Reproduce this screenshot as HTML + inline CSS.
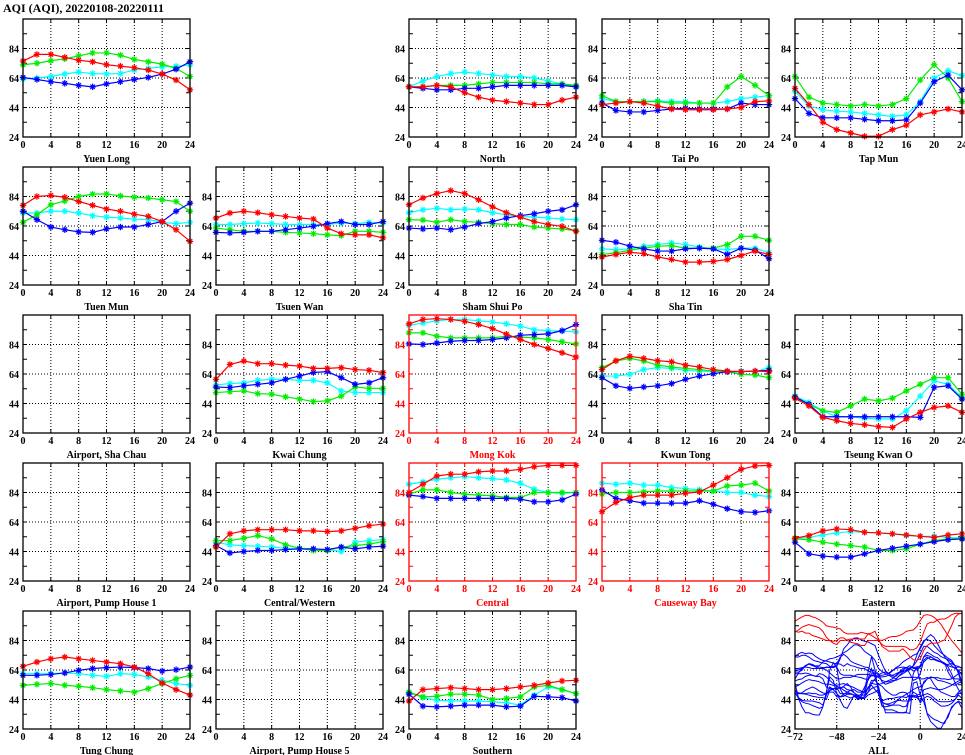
<!DOCTYPE html>
<html><head><meta charset="utf-8">
<style>
html,body{margin:0;padding:0;background:#fff;}
svg{display:block;font-family:"Liberation Serif",serif;font-weight:bold;}
</style></head>
<body>
<svg id="chart" width="965" height="755" viewBox="0 0 965 755" xmlns="http://www.w3.org/2000/svg">
<text x="3" y="12" font-size="12">AQI (AQI), 20220108-20220111</text>
</svg>
<script>
const hours=[0,2,4,6,8,10,12,14,16,18,20,22,24];
const yTicks=[24,44,64,84];
const xTicks=[0,4,8,12,16,20,24];
const allXTicks=[-72,-48,-24,0,24];

const yuenLongRed=[75.5,80,80,78,76,75,73,72,71,69.4,66.7,62.6,56];
const yuenLongGreen=[73,74,75.7,77,79,81,81,79.5,76.6,75,73.4,70.5,65];
const yuenLongCyan=[63.3,64,65,66.7,68,67,66.7,67,69.4,70.5,71.6,72,72.8];
const yuenLongBlue=[64.4,63,61.5,60.4,59,58,60,61.5,63,64.4,66.7,70,75];

const northRed=[58,58,59,58,54,51,49,48,47,46,46,49,51];
const northGreen=[58,58,59,59,59,60,61,61,61,61,60,60,59];
const northCyan=[58,62,65,67,68,67,66,65,65,64,62,60,58];
const northBlue=[58,57,56,56,57,57,58,59,59,59,59,59,58];

const taiPoRed=[46,47,48,47,45,43,42.5,42.5,42.5,43,44,48,48.5];
const taiPoGreen=[52,48,48,48,48,47,47,47,47,58,65,59,52];
const taiPoCyan=[50,48,48,48,48.5,48,48,47,47,48,50,51,52];
const taiPoBlue=[47,42,41,41,42,43,43.5,43,43,43,47,46,46];

const tapMunRed=[57,46,34,29,26.7,24.5,24.5,29,32,39,41,43,41];
const tapMunGreen=[65,51,47,46,45,46,45,46,50,62.6,73,64,48];
const tapMunCyan=[55,45,42.5,41.5,41,40,39,38,39,48,64,69,65.6];
const tapMunBlue=[50,40,37,37,37,36,35,35,35.6,47,61.5,66,56];

const tuenMunRed=[78,84,84.7,83.5,80.6,78,75.5,74,72,70.5,67,61.5,53.6];
const tuenMunGreen=[66.5,71.6,78.4,81,84,85.6,85.8,84.4,83.5,83,81.8,80.6,74];
const tuenMunCyan=[72.8,72.8,74,74,72.8,71,70,69.4,68.7,68.3,66.5,65.6,66.5];
const tuenMunBlue=[74,68.3,63.3,61.5,60,59.7,62,63.3,63.3,65,67,74,79.5];

const tsuenWanRed=[69.4,72.8,74,73,71.6,70.5,69.4,68.7,62.6,58.8,58,58,56];
const tsuenWanGreen=[62.6,61.5,60.4,60.4,60.4,59.7,59.3,58.8,58,57.5,60.4,60.4,59.7];
const tsuenWanCyan=[65,65,65.6,66,65.6,65,65,65,65,66,65.6,66.5,66];
const tsuenWanBlue=[59.7,59.3,59.7,60.4,60.4,61.5,62.6,63.8,65.6,67,65,65,67];

const shamShuiPoRed=[78.4,83,86,88,86,81.8,77,73,70,67,65,63.8,60.4];
const shamShuiPoGreen=[68.3,68,66.5,68.3,67,66.5,65.6,65,65,63.3,62.6,62,60.8];
const shamShuiPoCyan=[73,75,76,75,75.5,75,73,71.6,70.5,70,69.4,68.7,68.3];
const shamShuiPoBlue=[62.6,62,62.6,61.5,63.3,65.6,67,69.4,71,72.3,74,75,78.4];

const shaTinRed=[43,44.7,46.2,45.3,43,41.3,39.5,39.5,40,41.3,44,47,44.7];
const shaTinGreen=[44.7,45.8,47.6,49,50.3,50.7,49,49,49,51.4,57,57,54.3];
const shaTinCyan=[48.5,48,48.5,50.3,51.4,52.5,51.4,49.8,48.5,48,49,49,45.8];
const shaTinBlue=[54.3,53,50.3,48.5,47,47,48.5,49,48.5,44.7,49,47.6,41.8];

const kwaiChungRed=[60.4,70.5,72.8,71,71,70,69.4,67.8,67.8,68.3,67,66.5,65];
const kwaiChungGreen=[51.4,52,52.5,50.7,50.3,48.5,47,45.3,45.8,49,55.2,54.3,54.3];
const kwaiChungCyan=[56.6,57.5,58,59.7,60.4,60.4,59.7,59.7,58,52.5,51.4,51.4,51.4];
const kwaiChungBlue=[55.2,54.8,56,57,58,60.4,62.6,65,65.6,61.5,57,58,61.5];

const mongKokRed=[98,101,101.5,101,99.7,97.5,94.8,91,87.4,84,81.3,78.4,75.5];
const mongKokGreen=[91.9,91.9,89.6,88.5,88.5,88.5,88.5,89.6,89,88.5,87.4,85.8,84.4];
const mongKokCyan=[97,98.6,100,101,101,100,99.3,98,96.4,94,93.4,93,92.5];
const mongKokBlue=[84.4,84,85,86.2,86.7,86.7,87.4,88.5,90.3,90.7,91.2,93.4,97.5];

const kwunTongRed=[67,73,76,74.6,73,72.3,70,68.7,67,66,65.6,66,65.6];
const kwunTongGreen=[68.3,72.8,74.6,72.8,70,68.7,67.8,67,66,65.6,63.8,63.3,61.5];
const kwunTongCyan=[62.6,62.6,63.8,67,68.3,67.8,66.5,66,65.6,65.6,66,65.6,68.3];
const kwunTongBlue=[61.5,56,54.3,55.2,56,57.5,60.4,62.6,64.2,65.6,65.6,66,66.5];

const tseungKwanORed=[47.6,42.4,34.6,32.3,30.5,29.6,28.3,27.8,33.5,38,41.3,42.4,38];
const tseungKwanOGreen=[48.5,43.5,39,38,42.4,47,45.8,47.6,52.5,57,61.5,61.5,50.3];
const tseungKwanOCyan=[49,44.7,39,35,35,34,33.5,33.5,39,49,59.3,57,48];
const tseungKwanOBlue=[48.5,43.5,35,35,35,35,35,35,35,34.6,55,56,47];

const centralWesternRed=[47,56,58,58.8,58.8,58.8,58,58,57.5,58,59.7,61.5,62.6];
const centralWesternGreen=[51.4,51.4,53,54.8,52.5,48.5,46.2,44.7,44.7,47,48,49,50.7];
const centralWesternCyan=[50.3,48.5,48,47.6,47,46.2,45.8,45.3,45.3,44,50.3,51.4,52];
const centralWesternBlue=[48,43,44,44.7,44.7,45.3,45.8,45.8,45.3,47,45.8,47,47.6];

const centralRed=[84,89.6,95.2,96.4,96.4,98,98.6,98.6,99.7,101.5,102.4,102.4,102.4];
const centralGreen=[82.9,85.8,85.8,84,82.9,82.2,81.8,80.6,80.6,84,84,84,84];
const centralCyan=[89.6,91.2,93,94,94.8,94,93.4,92.5,90.3,86.2,84,83.5,84];
const centralBlue=[82.2,81.3,80,80,80,80,80,80,79.5,77.7,77.7,79,82.9];

const causewayBayRed=[71,77.3,80.6,82.2,82.2,82.2,83.5,84.4,89,94,99.7,102,102.4];
const causewayBayGreen=[82.9,84,84,84.4,85,85,85,85,85,88.5,89,90.3,85];
const causewayBayCyan=[90.3,89.6,90.3,89,89,87.4,86.7,85.8,85,84,84,82.2,81.3];
const causewayBayBlue=[85.8,80,78.4,76.8,76.8,76.8,76.8,78.4,76,73,71,70.5,71.6];

const easternRed=[53,54.8,58,59.3,58.8,57,56.6,56,55.2,54.3,53.6,55.2,56];
const easternGreen=[52.5,52,50.3,49,48,47,44.7,44.7,45.8,49,51.4,52.5,53];
const easternCyan=[52.5,53.6,55.2,56.6,57.5,57,56.6,56,54.8,54.3,54.3,53.6,53];
const easternBlue=[50.3,42.4,40.9,40.2,40.2,42.4,44.7,46.2,47.6,49,50.7,52,52.5];

const tungChungRed=[66.5,69.4,71.6,72.8,71.6,70.5,69.4,68.3,66,61.5,55.2,50.7,47];
const tungChungGreen=[53.6,54.3,54.8,53.6,53,52,50.7,49.8,49,51.4,54.8,58,60.4];
const tungChungCyan=[61.5,61.5,61.5,62,61.5,60.4,59.7,61.5,61,59.3,57,54.8,53.6];
const tungChungBlue=[60.4,60.4,61,62,63.8,65,65.6,66,65.6,65,63.3,64.2,66];

const southernRed=[43,50.7,51.4,52,51.4,50.7,50.7,51.4,52.5,53.6,55.2,56.6,57];
const southernGreen=[49,45.8,46.2,47.6,47.6,47,44,44.7,45.8,52.5,53.6,50.7,48];
const southernCyan=[48.5,45.3,43.5,43,43,43,42.4,41.8,40.2,47,52.5,50.7,48];
const southernBlue=[47.6,39.5,39,39.5,40.2,40.2,40.2,39,39.5,46.2,45.8,45.3,43];

const stations=[
 {name:"Yuen Long",col:0,row:0,road:false,s:[yuenLongRed,yuenLongGreen,yuenLongCyan,yuenLongBlue]},
 {name:"North",col:2,row:0,road:false,s:[northRed,northGreen,northCyan,northBlue]},
 {name:"Tai Po",col:3,row:0,road:false,s:[taiPoRed,taiPoGreen,taiPoCyan,taiPoBlue]},
 {name:"Tap Mun",col:4,row:0,road:false,s:[tapMunRed,tapMunGreen,tapMunCyan,tapMunBlue]},
 {name:"Tuen Mun",col:0,row:1,road:false,s:[tuenMunRed,tuenMunGreen,tuenMunCyan,tuenMunBlue]},
 {name:"Tsuen Wan",col:1,row:1,road:false,s:[tsuenWanRed,tsuenWanGreen,tsuenWanCyan,tsuenWanBlue]},
 {name:"Sham Shui Po",col:2,row:1,road:false,s:[shamShuiPoRed,shamShuiPoGreen,shamShuiPoCyan,shamShuiPoBlue]},
 {name:"Sha Tin",col:3,row:1,road:false,s:[shaTinRed,shaTinGreen,shaTinCyan,shaTinBlue]},
 {name:"Airport, Sha Chau",col:0,row:2,road:false,s:null},
 {name:"Kwai Chung",col:1,row:2,road:false,s:[kwaiChungRed,kwaiChungGreen,kwaiChungCyan,kwaiChungBlue]},
 {name:"Mong Kok",col:2,row:2,road:true,s:[mongKokRed,mongKokGreen,mongKokCyan,mongKokBlue]},
 {name:"Kwun Tong",col:3,row:2,road:false,s:[kwunTongRed,kwunTongGreen,kwunTongCyan,kwunTongBlue]},
 {name:"Tseung Kwan O",col:4,row:2,road:false,s:[tseungKwanORed,tseungKwanOGreen,tseungKwanOCyan,tseungKwanOBlue]},
 {name:"Airport, Pump House 1",col:0,row:3,road:false,s:null},
 {name:"Central/Western",col:1,row:3,road:false,s:[centralWesternRed,centralWesternGreen,centralWesternCyan,centralWesternBlue]},
 {name:"Central",col:2,row:3,road:true,s:[centralRed,centralGreen,centralCyan,centralBlue]},
 {name:"Causeway Bay",col:3,row:3,road:true,s:[causewayBayRed,causewayBayGreen,causewayBayCyan,causewayBayBlue]},
 {name:"Eastern",col:4,row:3,road:false,s:[easternRed,easternGreen,easternCyan,easternBlue]},
 {name:"Tung Chung",col:0,row:4,road:false,s:[tungChungRed,tungChungGreen,tungChungCyan,tungChungBlue]},
 {name:"Airport, Pump House 5",col:1,row:4,road:false,s:null},
 {name:"Southern",col:2,row:4,road:false,s:[southernRed,southernGreen,southernCyan,southernBlue]}
];

const NS="http://www.w3.org/2000/svg";
const svg=document.getElementById("chart");
const LEFTS=[23,216,409,602,795], TOPS=[19,167,315,463,611], W=167, H=118;
const YMIN=24, YMAX=104;
const COLORS=["#ff0000","#00ee00","#00ffff","#0000ff"];
const SNAMES=["red","green","cyan","blue"];

function mk(tag,attrs,parent){const e=document.createElementNS(NS,tag);for(const k in attrs)e.setAttribute(k,attrs[k]);(parent||svg).appendChild(e);return e;}
function slug(s){return s.toLowerCase().replace(/[^a-z0-9]+/g,'-').replace(/-$/,'');}

function drawFrame(g,px,py,xmin,xmax,xt,col,label,slugName){
  const xs=v=>px+(v-xmin)/(xmax-xmin)*W;
  const ys=v=>py+H-(v-YMIN)/(YMAX-YMIN)*H;
  // grid
  xt.slice(1,-1).forEach(v=>{const l=mk("line",{x1:xs(v),x2:xs(v),y1:py,y2:py+H,stroke:"#000","stroke-width":1,"stroke-dasharray":"1,2"},g);
    
    });
  [44,64,84].forEach(v=>{const l=mk("line",{x1:px,x2:px+W,y1:ys(v),y2:ys(v),stroke:"#000","stroke-width":1,"stroke-dasharray":"1,2"},g);
    
    });
  // minor ticks
  for(let v=34;v<YMAX;v+=10){mk("line",{x1:px,x2:px+4,y1:ys(v),y2:ys(v),stroke:col},g);mk("line",{x1:px+W-4,x2:px+W,y1:ys(v),y2:ys(v),stroke:col},g);}
  xt.forEach(v=>{mk("line",{x1:xs(v),x2:xs(v),y1:py,y2:py+4,stroke:col},g);mk("line",{x1:xs(v),x2:xs(v),y1:py+H-4,y2:py+H,stroke:col},g);});
  // tick labels
  yTicks.forEach(v=>{const t=mk("text",{x:px-4,y:ys(v)+4,"text-anchor":"end","font-size":10,fill:col},g);t.textContent=v;
    
    });
  xt.forEach(v=>{const t=mk("text",{x:xs(v),y:py+H+11,"text-anchor":"middle","font-size":10,fill:col},g);t.textContent=(v<0?"\u2212"+(-v):v);
    
    });
  const tt=mk("text",{x:px+W/2,y:py+H+25,"text-anchor":"middle","font-size":10,fill:col},g);tt.textContent=label;
  
  
  return {xs,ys};
}

stations.forEach(st=>{
  const px=LEFTS[st.col], py=TOPS[st.row], col=st.road?"#ff0000":"#000", sl=slug(st.name);
  const g=mk("g",{});
  
  
  const {xs,ys}=drawFrame(g,px,py,0,24,xTicks,col,st.name,sl);
  if(st.s){
    [2,1,3,0].forEach(si=>{
      const vals=st.s[si], c=COLORS[si];
      const sg=mk("g",{},g);
      
      
      const pl=mk("polyline",{points:vals.map((v,i)=>xs(hours[i])+","+ys(v)).join(" "),fill:"none",stroke:c,"stroke-width":1.2},sg);
      
      
      vals.forEach((v,i)=>{
        const x=xs(hours[i]), y=ys(v), r=3.2;
        const m=mk("path",{d:`M${x-r},${y}H${x+r}M${x},${y-r}V${y+r}M${x-r*.7},${y-r*.7}L${x+r*.7},${y+r*.7}M${x-r*.7},${y+r*.7}L${x+r*.7},${y-r*.7}`,stroke:c,"stroke-width":1.2},sg);
        
        
      });
    });
  }
  mk("rect",{x:px,y:py,width:W,height:H,fill:"none",stroke:col,"stroke-width":1.3},g);
});

// ALL panel
(function(){
  const px=LEFTS[4], py=TOPS[4];
  const g=mk("g",{});
  
  
  const {xs,ys}=drawFrame(g,px,py,-72,24,allXTicks,"#000","ALL","all");
  const clipId="allclip";
  const cp=mk("clipPath",{id:clipId},g);mk("rect",{x:px,y:py,width:W,height:H},cp);
  const lg=mk("g",{"clip-path":"url(#"+clipId+")"},g);
  const order=[2,1,3,0]; // cyan, green, blue, red days
  stations.filter(s=>s.s).sort((a,b)=>a.road-b.road).forEach(st=>{
    const pts=[];
    order.forEach((si,d)=>{st.s[si].forEach((v,i)=>{if(d>0&&i===0)return;pts.push(xs(-72+24*d+hours[i])+","+ys(v));});});
    const pl=mk("polyline",{points:pts.join(" "),fill:"none",stroke:st.road?"#ff0000":"#0000ff","stroke-width":1},lg);
    
    
  });
  mk("rect",{x:px,y:py,width:W,height:H,fill:"none",stroke:"#000","stroke-width":1.3},g);
})();
</script>
</body></html>
